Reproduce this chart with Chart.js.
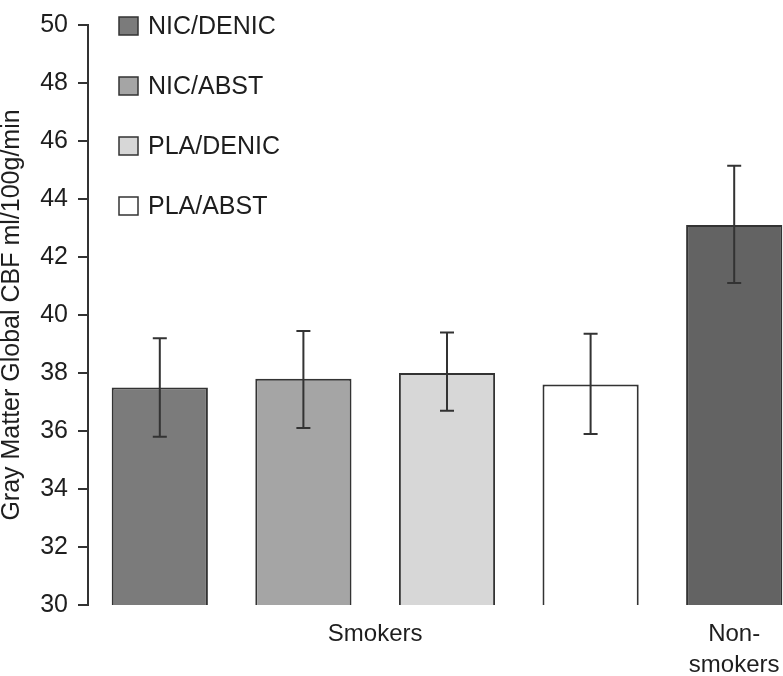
<!DOCTYPE html>
<html lang="en">
<head>
<meta charset="UTF-8">
<title>Gray Matter Global CBF</title>
<style>
  html, body { margin: 0; padding: 0; background: #fff; overflow: hidden; }
  #wrap { width: 783px; height: 676px; overflow: hidden; }
</style>
</head>
<body>
<div id="wrap">
  <canvas id="cbf_chart" width="806" height="676"></canvas>
</div>
<script src="https://cdn.jsdelivr.net/npm/chart.js@4.4.1/dist/chart.umd.min.js"></script>
<script>
// data
const categories = ['NIC/DENIC', 'NIC/ABST', 'PLA/DENIC', 'PLA/ABST', 'Non-smokers'];
const groupOf = ['Smokers', 'Smokers', 'Smokers', 'Smokers', 'Non-smokers'];
const groupLabels = { 'Smokers': 'Smokers', 'Non-smokers': ['Non-', 'smokers'] };
const meanCBF = [37.5, 37.8, 38.0, 37.6, 43.1];
const errLow = [35.8, 36.1, 36.7, 35.9, 41.1];
const errHigh = [39.2, 39.45, 39.4, 39.35, 45.15];
const legendItems = ['NIC/DENIC', 'NIC/ABST', 'PLA/DENIC', 'PLA/ABST'];
const yMin = 30, yMax = 50, yStep = 2;

const barColors = ['#7b7b7b', '#a5a5a5', '#d7d7d7', '#ffffff', '#636363'];
const edge = '#333333';
const textColor = '#1e1e1e';
const font = 'Liberation Sans, Arial, Helvetica, sans-serif';

// group tick positions = mean index of the categories in each group
const groups = [...new Set(groupOf)];
const groupTicks = groups.map(g => {
  const idx = groupOf.map((v, i) => v === g ? i : -1).filter(i => i >= 0);
  return idx.reduce((a, b) => a + b, 0) / idx.length;
});

const errorBars = {
  id: 'errorBars',
  afterDatasetsDraw(chart) {
    const ctx = chart.ctx;
    const y = chart.scales.y;
    const meta = chart.getDatasetMeta(0);
    ctx.save();
    ctx.strokeStyle = edge;
    ctx.lineWidth = 2;
    meta.data.forEach((bar, i) => {
      const top = y.getPixelForValue(errHigh[i]);
      const bot = y.getPixelForValue(errLow[i]);
      ctx.beginPath();
      ctx.moveTo(bar.x, top); ctx.lineTo(bar.x, bot);
      ctx.moveTo(bar.x - 7, top); ctx.lineTo(bar.x + 7, top);
      ctx.moveTo(bar.x - 7, bot); ctx.lineTo(bar.x + 7, bot);
      ctx.stroke();
    });
    ctx.restore();
  }
};

const boxLegend = {
  id: 'boxLegend',
  afterDraw(chart) {
    const ctx = chart.ctx;
    const x0 = chart.chartArea.left + 31;
    ctx.save();
    ctx.font = '25px ' + font;
    ctx.textBaseline = 'middle';
    legendItems.forEach((lab, i) => {
      const cy = 26 + i * 60;
      ctx.fillStyle = barColors[i];
      ctx.fillRect(x0, cy - 9, 19, 18);
      ctx.strokeStyle = edge;
      ctx.lineWidth = 1.5;
      ctx.strokeRect(x0, cy - 9, 19, 18);
      ctx.fillStyle = textColor;
      ctx.fillText(lab, x0 + 29, cy + 1);
    });
    ctx.restore();
  }
};

new Chart(document.getElementById('cbf_chart').getContext('2d'), {
  type: 'bar',
  data: {
    labels: categories,
    datasets: [{
      data: meanCBF,
      backgroundColor: barColors,
      borderColor: edge,
      borderWidth: 2,
      borderSkipped: false,
      barPercentage: 0.67,
      categoryPercentage: 1
    }]
  },
  options: {
    responsive: false,
    animation: false,
    layout: { padding: { top: 13, left: 0, right: 0, bottom: 0 } },
    plugins: { legend: { display: false }, tooltip: { enabled: false } },
    scales: {
      x: { display: false },
      x2: {
        type: 'linear',
        position: 'bottom',
        offset: false,
        min: -0.5,
        max: categories.length - 0.5,
        grid: { display: false },
        border: { display: false },
        afterBuildTicks(scale) { scale.ticks = groupTicks.map(v => ({ value: v })); },
        afterFit(scale) { scale.height = 71; },
        ticks: {
          padding: 6,
          maxRotation: 0,
          autoSkip: false,
          color: textColor,
          font: { family: font, size: 24, lineHeight: 1.28 },
          callback: (v, i) => groupLabels[groups[i]]
        }
      },
      y: {
        min: yMin,
        max: yMax,
        afterFit(scale) { scale.width = 88; },
        border: { display: true, color: edge, width: 2 },
        grid: { drawOnChartArea: false, drawTicks: true, tickLength: 10, color: edge, lineWidth: 2 },
        ticks: {
          stepSize: yStep,
          padding: 10,
          color: textColor,
          font: { family: font, size: 25 }
        },
        title: {
          display: true,
          text: 'Gray Matter Global CBF ml/100g/min',
          color: textColor,
          padding: 0,
          font: { family: font, size: 25, lineHeight: 1.0 }
        }
      }
    }
  },
  plugins: [errorBars, boxLegend]
});
</script>
</body>
</html>
